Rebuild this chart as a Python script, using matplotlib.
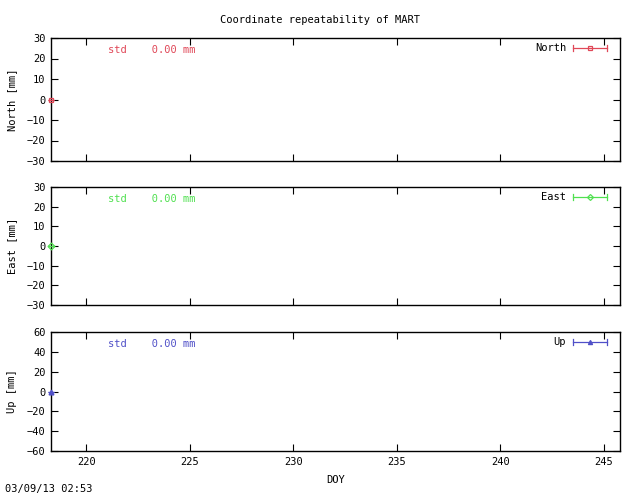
import numpy as np
import matplotlib
matplotlib.use("Agg")
import matplotlib.pyplot as plt

# data
station = "MART"
doy = [218.31]
north = [0.0]
east = [0.0]
up = [-1.0]
sigma = [0.0]
std_vals = [0.00, 0.00, 0.00]
names = ["North", "East", "Up"]
colors = ["#e04858", "#50e050", "#5050c8"]
markers = ["s", "D", "^"]
ylims = [(-30, 30), (-30, 30), (-60, 60)]
yticks = [np.arange(-30, 31, 10), np.arange(-30, 31, 10), np.arange(-60, 61, 20)]
xticks = [220, 225, 230, 235, 240, 245]
xlim = (218.3, 245.77)

plt.rcParams['font.family'] = ['DejaVu Sans Mono']
plt.rcParams['font.size'] = 7.5

fig = plt.figure(figsize=(6.4, 4.96), dpi=100)
boxes = [(38, 161), (187, 305), (332, 451)]
series = [north, east, up]
L, R = 51 / 640, (620 - 51) / 640

for i, (top, bot) in enumerate(boxes):
    ax = fig.add_axes([L, 1 - bot / 496, R, (bot - top) / 496])
    c = colors[i]
    ax.errorbar(doy, series[i], yerr=sigma, fmt=markers[i], color=c, ms=3.5,
                mfc='none' if i < 2 else c, mew=0.9, capsize=2, clip_on=False, zorder=5)
    ax.set_xlim(*xlim)
    ax.set_ylim(*ylims[i])
    ax.set_yticks(yticks[i])
    ax.set_xticks(xticks)
    ax.tick_params(direction='in', top=True, right=True, length=5, width=0.8,
                   labelsize=7.5, pad=4)
    if i < 2:
        ax.tick_params(labelbottom=False)
    for s in ax.spines.values():
        s.set_linewidth(1.0)
    ax.set_ylabel(names[i] + " [mm]", fontsize=7.5, labelpad=7)
    ax.text((108 - 51) / 569, 1 - 12 / (bot - top), "std    %.2f mm" % std_vals[i],
            color=c, transform=ax.transAxes, fontsize=7.5, va='center')
    # legend-style key
    ly = 1 - 10 / (bot - top)
    x0 = (573 - 51) / 569
    x1 = (607 - 51) / 569
    xm = (590 - 51) / 569
    ax.text(x0 - 0.012, ly, names[i], transform=ax.transAxes, ha='right',
            va='center', fontsize=7.5)
    ax.plot([x0, x1], [ly, ly], color=c, lw=0.9, transform=ax.transAxes)
    ax.plot([x0, x0], [ly - 0.025, ly + 0.025], color=c, lw=0.9, transform=ax.transAxes)
    ax.plot([x1, x1], [ly - 0.025, ly + 0.025], color=c, lw=0.9, transform=ax.transAxes)
    ax.plot([xm], [ly], marker=markers[i], color=c, ms=3,
            mfc='none' if i < 2 else c, mew=0.9, transform=ax.transAxes)
    if i == 2:
        ax.set_xlabel("DOY", fontsize=7.5, labelpad=6)

fig.text(0.5, 1 - 20 / 496, "Coordinate repeatability of " + station,
         ha='center', va='center', fontsize=7.5)
fig.text(5 / 640, 1 - 489 / 496, "03/09/13 02:53", ha='left', va='center', fontsize=7.5)

fig.savefig("out.png", dpi=100)
